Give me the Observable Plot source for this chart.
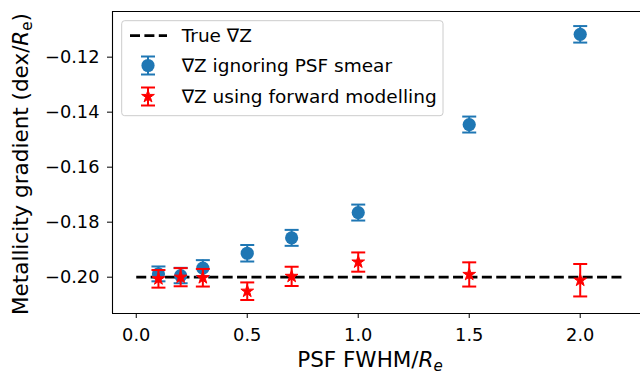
<!DOCTYPE html>
<html>
<head>
<meta charset="utf-8">
<script src="https://cdn.jsdelivr.net/npm/d3@7"></script>
<script src="https://cdn.jsdelivr.net/npm/@observablehq/plot@0.6"></script>
<style>
  html, body { margin: 0; padding: 0; background: white; }
  #chart { width: 640px; height: 376px; overflow: hidden; }
</style>
</head>
<body>
<div id="chart"></div>
<script>
// ---- data ----
const fwhm = [0.1, 0.2, 0.3, 0.5, 0.7, 1.0, 1.5, 2.0];
const gradIgnore = [-0.1988, -0.1994, -0.1967, -0.1913, -0.1857, -0.1765, -0.1445, -0.1117];
const errIgnore  = [0.0027, 0.0028, 0.0029, 0.0030, 0.0029, 0.0029, 0.0029, 0.0030];
const gradForward = [-0.2006, -0.2000, -0.2002, -0.2051, -0.1997, -0.1945, -0.1990, -0.2011];
const errForward  = [0.0032, 0.0033, 0.0032, 0.0032, 0.0035, 0.0035, 0.0044, 0.0059];
const trueX = [0, 2.2];
const trueGrad = -0.20;
const xTicks = [0.0, 0.5, 1.0, 1.5, 2.0];
const yTicks = [-0.20, -0.18, -0.16, -0.14, -0.12];
const legendLabels = ["True \u2207Z", "\u2207Z ignoring PSF smear", "\u2207Z using forward modelling"];

// ---- derived tables ----
const BLUE = "#1f77b4", RED = "#ff0000";
const ignore = fwhm.map((x, i) => ({x, y: gradIgnore[i], lo: gradIgnore[i] - errIgnore[i], hi: gradIgnore[i] + errIgnore[i]}));
const forward = fwhm.map((x, i) => ({x, y: gradForward[i], lo: gradForward[i] - errForward[i], hi: gradForward[i] + errForward[i]}));
const capsOf = t => t.flatMap(d => [{x: d.x, y: d.lo}, {x: d.x, y: d.hi}]);
const trueLine = trueX.map(x => ({x, y: trueGrad}));

const xDomain = [-0.107, 2.2716];
const yDomain = [-0.2132, -0.1034];

const TICK_FONT = 17.8, LABEL_FONT = 21.5, LEGEND_FONT = 18.5;

// horizontal cap symbol
const capSymbol = {
  draw(ctx, size) {
    const r = Math.sqrt(size / Math.PI);
    ctx.moveTo(-r, 0);
    ctx.lineTo(r, 0);
  }
};

const plot = Plot.plot({
  width: 640,
  height: 376,
  marginLeft: 112,
  marginTop: 11,
  marginBottom: 63,
  marginRight: 0,
  style: {fontFamily: "DejaVu Sans", fontSize: TICK_FONT + "px", color: "black", background: "white"},
  x: {domain: xDomain, ticks: xTicks, tickFormat: d3.format(".1f"), tickSize: 5, tickPadding: 10, label: null},
  y: {domain: yDomain, ticks: yTicks, tickFormat: d3.format(".2f"), tickSize: 5, tickPadding: 8, label: null},
  marks: [
    Plot.line(trueLine, {x: "x", y: "y", stroke: "black", strokeWidth: 2.7, strokeDasharray: "10,4.4", strokeLinecap: "butt"}),
    Plot.ruleX(ignore, {x: "x", y1: "lo", y2: "hi", stroke: BLUE, strokeWidth: 2}),
    Plot.dot(capsOf(ignore), {x: "x", y: "y", symbol: capSymbol, r: 7, stroke: BLUE, strokeWidth: 2, fill: "none"}),
    Plot.dot(ignore, {x: "x", y: "y", r: 6.6, fill: BLUE, stroke: "none"}),
    Plot.ruleX(forward, {x: "x", y1: "lo", y2: "hi", stroke: RED, strokeWidth: 2}),
    Plot.dot(capsOf(forward), {x: "x", y: "y", symbol: capSymbol, r: 7, stroke: RED, strokeWidth: 2, fill: "none"}),
    Plot.dot(forward, {x: "x", y: "y", symbol: "star", r: 4, fill: RED, stroke: RED, strokeWidth: 1}),
    Plot.ruleY([yDomain[0], yDomain[1]], {stroke: "black", strokeWidth: 1.1}),
    Plot.ruleX([xDomain[0]], {stroke: "black", strokeWidth: 1.1})
  ]
});

const svg = d3.select(plot);
// force tick label font size
svg.selectAll("g").attr("font-size", null);
svg.selectAll("text").attr("font-size", TICK_FONT).style("font-size", TICK_FONT + "px").attr("font-family", "DejaVu Sans");

const ys = plot.scale("y");

// axis labels
const xl = svg.append("text")
  .attr("x", 370).attr("y", 367)
  .attr("text-anchor", "middle")
  .attr("font-family", "DejaVu Sans").attr("font-size", LABEL_FONT).style("font-size", LABEL_FONT + "px").attr("fill", "black");
xl.append("tspan").text("PSF FWHM/");
xl.append("tspan").attr("font-style", "italic").text("R");
xl.append("tspan").attr("font-style", "italic").attr("font-size", LABEL_FONT * 0.7).style("font-size", (LABEL_FONT * 0.7) + "px").attr("dy", 4).text("e");

const yl = svg.append("text")
  .attr("transform", `translate(28,${(ys.range[0] + ys.range[1]) / 2 + 2}) rotate(-90)`)
  .attr("text-anchor", "middle")
  .attr("font-family", "DejaVu Sans").attr("font-size", LABEL_FONT).style("font-size", LABEL_FONT + "px").attr("fill", "black");
yl.append("tspan").text("Metallicity gradient (dex/");
yl.append("tspan").attr("font-style", "italic").text("R");
yl.append("tspan").attr("font-size", LABEL_FONT * 0.7).style("font-size", (LABEL_FONT * 0.7) + "px").attr("dy", 4).text("e");
yl.append("tspan").attr("dy", -4).text(")");

// legend
const lg = svg.append("g").attr("font-family", "DejaVu Sans").attr("text-anchor", "start");
lg.append("rect").attr("x", 121.7).attr("y", 20.7).attr("width", 321.3).attr("height", 95)
  .attr("rx", 3).attr("fill", "white").attr("fill-opacity", 0.8).attr("stroke", "#cccccc").attr("stroke-width", 1);
const rowY = [35.7, 65.5, 96.5];
const hx = 148;
lg.append("line").attr("x1", 130).attr("x2", 167).attr("y1", rowY[0]).attr("y2", rowY[0])
  .attr("stroke", "black").attr("stroke-width", 2.7).attr("stroke-dasharray", "10,4.4");
function errHandle(y, color) {
  lg.append("line").attr("x1", hx).attr("x2", hx).attr("y1", y - 9).attr("y2", y + 9).attr("stroke", color).attr("stroke-width", 2);
  [y - 9, y + 9].forEach(yy => lg.append("line").attr("x1", hx - 7).attr("x2", hx + 7).attr("y1", yy).attr("y2", yy).attr("stroke", color).attr("stroke-width", 2));
}
errHandle(rowY[1], BLUE);
lg.append("circle").attr("cx", hx).attr("cy", rowY[1]).attr("r", 6.6).attr("fill", BLUE);
errHandle(rowY[2], RED);
lg.append("path").attr("transform", `translate(${hx},${rowY[2]})`)
  .attr("d", d3.symbol(d3.symbolStar, Math.PI * 16)()).attr("fill", RED).attr("stroke", RED).attr("stroke-width", 1);
legendLabels.forEach((t, i) => {
  lg.append("text").attr("x", 181.7).attr("y", rowY[i]).attr("dy", "0.36em").attr("fill", "black")
    .attr("text-anchor", "start").attr("font-size", LEGEND_FONT).style("font-size", LEGEND_FONT + "px").text(t);
});

document.getElementById("chart").appendChild(plot);
</script>
</body>
</html>
